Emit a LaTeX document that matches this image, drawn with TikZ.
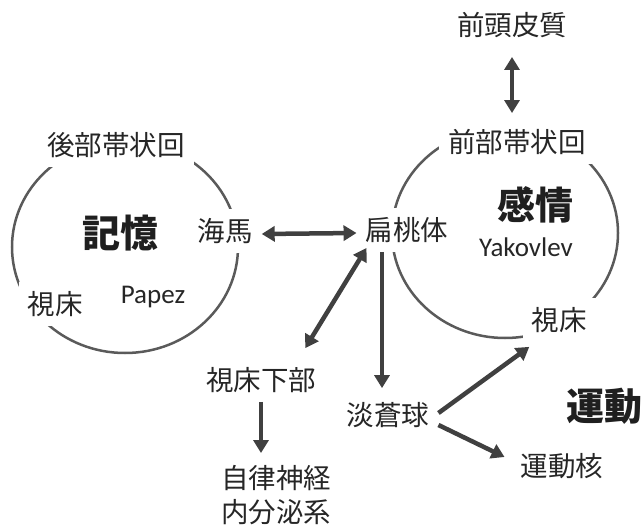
\documentclass[tikz,border=0pt]{standalone}
\usepackage{fontspec}
\usepackage{tikz}
\usetikzlibrary{arrows.meta}
\newfontfamily\jp{Noto Sans CJK JP}
\newfontfamily\lat{Carlito}
\definecolor{arrgray}{HTML}{404040}
\definecolor{ringgray}{HTML}{5A5A5A}
\tikzset{every picture/.style={x=1pt,y=-1pt},
  lbl/.style={fill=white,inner sep=9pt,text=black!85,font=\jp\fontsize{27.5}{34}\selectfont,align=center},
  big/.style={inner sep=0pt,text=black!88,font=\jp\bfseries\fontsize{38}{40}\selectfont},
  latin/.style={inner sep=0pt,text=black!85,font=\lat\fontsize{27}{30}\selectfont},
  ring/.style={draw=ringgray,line width=2.5pt},
  arr/.style={draw=arrgray,line width=4.5pt,-{Triangle[length=13pt,width=15pt]}},
  darr/.style={draw=arrgray,line width=4.5pt,{Triangle[length=13pt,width=15pt]}-{Triangle[length=13pt,width=15pt]}}}

\begin{document}
\begin{tikzpicture}

          \useasboundingbox (0,0) rectangle (642,530);

          \draw[ring] (125,247) ellipse [x radius=113pt, y radius=106pt];
          \draw[ring] (505,233) ellipse [x radius=113pt, y radius=105pt];

          \node[lbl] (front) at (512, 25){前頭皮質};
          \node[lbl] (acc) at (517,142){前部帯状回};
          \node[lbl] (pcc) at (116,145){後部帯状回};
          \node[lbl] (hippo) at (225,231){海馬};
          \node[lbl] (thalL) at (55,304){視床};
          \node[lbl] (amyg) at (407,230){扁桃体};
          \node[lbl] (thalR) at (559,320){視床};
          \node[lbl] (hypo) at (261,380){視床下部};
          \node[lbl] (gp) at (388,415){淡蒼球};
          \node[lbl] (auto) at (276,495){自律神経\\内分泌系};
          \node[lbl] (motor) at (562,466){運動核};

          \node[big] (memory) at (120,233){記憶};
          \node[big] (emotion) at (535,205){感情};
          \node[big] (motion) at (604,406){運動};
          \node[latin] (papez) at (153,297){Papez};
          \node[latin] (yakov) at (526,247){Yakovlev};

          \draw[darr] ([yshift=-10pt]front.south) -- ([yshift=7pt]front.south |- acc.north);
          \draw[darr] ([yshift=-3pt]hippo.east) -- ([yshift=-3pt]amyg.west);
          \draw[darr] ([xshift=10pt,yshift=4pt]amyg.south west) -- ([xshift=-20pt,yshift=10pt]hypo.north east);
          \draw[arr] ([xshift=-6pt]amyg.south -| gp.north) -- ([xshift=-6pt,yshift=5pt]gp.north);
          \draw[arr] (hypo.south) -- ([yshift=3pt]hypo.south |- auto.north);
          \draw[arr] ([yshift=2pt]gp.east) -- ([xshift=7pt,yshift=-5pt]thalR.south west);
          \draw[arr] ([yshift=-10pt]gp.east) -- ([xshift=-7pt,yshift=9pt]motor.west);

        \end{tikzpicture}
\end{document}
